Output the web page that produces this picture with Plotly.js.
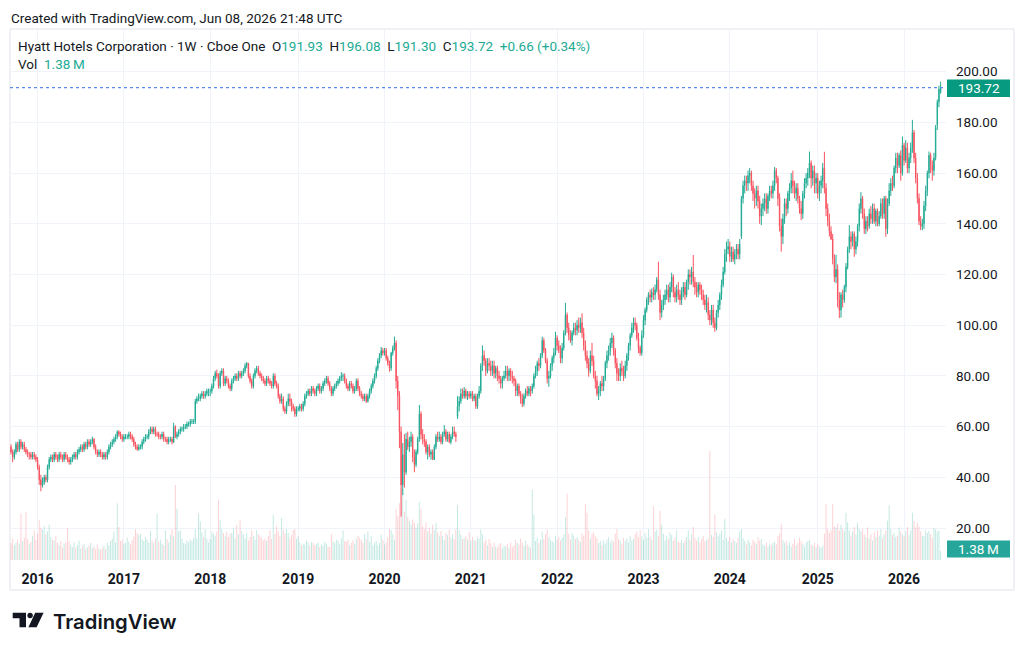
<!DOCTYPE html>
<html><head><meta charset="utf-8">
<script src="https://cdn.plot.ly/plotly-3.0.1.min.js"></script>
<style>html,body{margin:0;padding:0;background:#fff}#chart{width:1024px;height:653px}</style>
</head><body><div id="chart"></div>
<script>
// ---- data: weekly bars of Hyatt Hotels (H), first bar week of 2015-09-14 ----
const firstWeek = '2015-09-14';
const open = [
52,50,48,50,53,51,54,52,53,51, 50,49,49,48,49,48,47,44,39,37, 38,40,39,44,47,48,47,49,48,47, 49,48,47,49,48,47,46,47,48,49,
48,50,51,52,51,53,52,54,53,54, 55,52,50,49,50,49,48,49,48,50, 52,53,54,55,56,58,57,56,55,56, 56,56,57,56,55,53,52,51,52,52,
54,55,56,56,58,59,58,59,57,57, 56,56,57,55,55,54,55,55,54,60, 56,57,58,59,59,60,60,61,61,62, 62,62,70,71,71,72,73,72,73,74,
74,74,76,79,81,80,76,81,82,77, 79,78,76,75,78,79,80,79,81,80, 81,82,84,85,80,78,76,80,82,83, 81,80,79,78,77,79,78,77,76,80,
77,76,72,70,71,67,66,69,71,70, 68,67,65,67,67,68,67,69,72,73, 74,73,75,74,73,75,76,74,75,77, 78,79,77,75,73,75,76,77,78,79,
80,80,78,76,75,77,76,74,75,78, 75,73,72,71,72,70,72,74,76,78, 80,83,86,88,90,89,90,87,85,83, 89,91,93,78,72,58,37,49,42,55,
52,54,56,48,45,50,55,65,57,55, 54,50,52,49,50,47,52,56,55,56, 54,57,58,55,57,54,56,58,57,64, 68,70,73,72,74,72,73,72,73,71,
72,68,72,74,84,88,86,82,85,84, 82,84,81,83,80,79,77,79,80,82, 80,82,80,79,78,74,76,73,71,69, 72,74,73,75,74,76,80,82,85,84,
88,94,90,86,79,80,84,87,89,95, 92,90,87,91,97,104,99,96,94,97, 99,98,100,99,101,97,92,88,85,82, 88,86,80,78,73,74,77,76,79,85,
88,90,93,95,90,85,81,80,83,82, 80,84,88,92,96,99,101,100,95,91, 89,96,102,106,110,112,111,113,112,114, 118,112,105,108,110,112,114,111,115,119,
113,111,114,112,110,113,115,112,117,120, 119,121,117,115,113,116,114,112,110,108, 109,104,102,106,101,99,105,108,112,116, 121,128,130,131,127,129,126,128,130,128,
135,150,155,157,156,159,160,155,152,150, 153,149,143,146,148,150,146,151,153,152, 155,161,158,150,139,135,142,148,146,152, 154,157,155,152,154,150,146,144,152,156,
158,160,164,158,161,156,158,152,155,157, 162,154,146,141,137,134,126,119,122,110, 106,112,110,115,123,130,135,133,136,130, 133,139,146,150,144,138,141,139,144,142,
146,141,145,140,143,148,144,150,138,148, 153,156,155,162,166,163,167,160,171,165, 170,162,166,170,176,166,158,150,141,139, 140,147,153,160,167,163,161,166,179,188,
191.93];
const high = [
53,51,51,54,54,55,55,54,54,52, 51,50,50,50,50,49,48,45,41,40, 41,41,45,48,49,49,50,50,49,50, 50,49,50,50,49,48,48,49,50,50,
51,52,53,53,54,54,55,55,55,56, 55.5,53,51,51,51,50,50,50,51,53, 54,55,56,57,58.5,58.5,58,57,57,57, 57,58,58,57,56,54,53,53,53,55,
56,57,57,59,60,60,60,60,58,58, 57,58,58,56,56,56,56,56,61.5,60.5, 58,59,60,60,61,61,62,62,63,63, 63,71,72,73,73,74,74,74,75,75,
75,77,80,82,82.5,81,82,83,83,80, 80,79,77,79,80,81,81,82,82,82, 83,85,85.5,85,81,79,81,83,84,84, 82,81,80,79,80,80,79,78,81,81,
78,77,73,73,72,68,70,73,73,71, 69,68,68,68,69,69,70,73,74,75, 75,76,76,75,76,77,77,76,78,79, 80,80,78,76,76,77,78,79,80,81.5,
81,81,79,77,78,78,77,76,79,79, 76,74,73,73,73,73,75,77,79,81, 84,87,89,91.4,91,91,91,88,86,89.5, 92,95.5,94,80,74,60,53.5,57,57.5,58,
56,58,57,51,51,56,68.5,66,59,57, 55,53,53,51,51,53,57,58,58,57, 58,60.6,59,58,58,57,60,60,58,72, 72,75,75,75.6,75,74,74,74,74,73,
73,73,76,85,92,90,87,87,87,86, 86,86,84,84,82,80,80,82,84,84, 83,83,82,80,79,77,77,74,73,73, 75,76,76,76,77,81,84,86,87,89,
95.5,95,91,87,82,85,88,91,97.4,96, 94,92,93,98,108.8,105,101,98,98,101, 101,102,103,103,104.7,99,94,90,87,90, 93,88,82,80,76,78,80,80,86,90,
92,95,97,96,91,87,83,85,86,84, 86,89,93,97,101,103,103,101,97,92, 98,104,107,111,113,114,114.5,115,116,119, 125,114,110,112,114,116,116,117,120.7,120,
115,116,117,114,115,117,117,118,122,122, 123,127.7,119,117,117,117,116,114,112,112, 111,106,108,108,103,106,110,113,118,123, 130,133,134,133,131,131,130,132,132,134,
151,157,159,159,161,162,161,157,154,155, 155,151,148,150,152,152,152,155,155,157, 162.4,162,159,152,142,144,150,150,153,156, 160,161,157,156,156,151,149,153,158,160,
162,168.5,165,163,163,160,160,157,159,164, 168.4,156,148,144,139,136,128,127.7,124,113, 113,114,116,124.5,131,139.5,137,137,137,135, 140,148,152.5,151,146,143,143,146,147,148,
148,146,146,145,150,150,151,151,150,156, 158,159,163,168,168,168,169,174.4,172,173, 172,168,172,181,177,168,160,152,143,142, 149,155,161,168.5,168,165,168,179,189,194.5,
196.08];
const low = [
49,46,47,49,50,50,51,51,50,49, 48,47,47,47,47,46,43,37,34.5,36, 37,38,38,43,46,46,46,47,46,46, 47,46,46,47,46,45,45,46,47,47,
47,49,50,50,50,51,51,52,52,53, 51,49,48,48,48,47,47,47,47,49, 51,52,53,54,55,56,55,54,54,55, 55,55,55,54,52,51,50.5,50.5,51,51,
53,54,55,55,57,57,57,56,56,55, 55,55,54,54,53,53,54,53,53.5,55.5, 55,56,57,58,58,59,59,60,60,61, 61,61,69,70,70,71,71,71,72,72,
72,73,75,78,79,75,75,80,76,76, 77,75,74,74,77,78,78,78,79,79, 80,81,83,79,77,75,75,79,81,80, 79,78,77,76,76,77,76,75,75,76,
75,71,69,69,66,65,65,68,68,66, 66,63.8,64,66,66,66,66,68,71,72, 72,72,73,72,72,74,73,73,74,76, 77,76,74,72,72,74,75,76,77,78,
78,77,75,74,74,75,73,73,74,74, 72,71,70,70,69.3,69.5,71,73,75,77, 79,82,85,87,88,88,86,84,81.7,82, 88,90,75,66.5,51.5,24.5,33,36,41,50.8,
50,52,46,42,44,49,54,55,53,52, 49,47,48,47,46.8,46.8,51,54,54,53, 53,56,54,54,53.5,53,55,56,54,63, 66,69,71,71,71,70.5,71,71,70,70,
67,67,71,73,82,84,80,81,82,80, 80,79,79,78,77,75,75,78,79,78, 78,78,77,76,72,72,72,69,67.7,68, 71,72,72,72,73,75,79,80,82,83,
87,89,85,77,75.7,79,82,85,88,90, 89,85,85,90,96,97,94,93,92,96, 96,96,97,97,95,90,86,83,79.7,81, 84,79,75,72,70.5,72,74,74,78,83,
86,88,91,88,83,78,78,78,80,78, 79,82,86,90,95,97,98,94,89,88, 88,95,100,105,108,109,109,110,110,113, 110,102,103,106,108,110,109,109,113,111,
109,109,110,108,108,111,110,111,114,116, 116,115,112,111,111,112,110,108,106,105, 102,100,100,99,97.4,98,103,106,110,115, 120,125,128,125,125,125,124,126,126,126,
134,148,152,153,153,156,153,149,146,147, 146,140,139.5,143,145,144,144,149,150,150, 153,156,147,137,129,132,140,143,144,149, 152,152,150,149,148,144,141.5,142,150,154,
155,158,154,155,152,152,150,149,152,154, 152,143,139,135,133.6,124,117,116.6,107,102.8, 103,107,108.8,113,122,128.5,130,131,127,128, 131,137,144,142,136,136,137,138,140,140,
140,139,139,139,142,142,142,134.9,136,147, 151,153,154,160,160,162,157,159,163,164, 160,160,164,168,164,156,148,139.5,137.5,137.5, 138,145,151,158,160,157,159,165,177,186,
191.30];
const close = [
50,48,50,53,51,54,52,53,51,50, 49,49,48,49,48,47,44,39,37,38, 40,39,44,47,48,47,49,48,47,49, 48,47,49,48,47,46,47,48,49,48,
50,51,52,51,53,52,54,53,54,55, 52,50,49,50,49,48,49,48,50,52, 53,54,55,56,58,57,56,55,56,56, 56,57,56,55,53,52,51,52,52,54,
55,56,56,58,59,58,59,57,57,56, 56,57,55,55,54,55,55,54,60,56, 57,58,59,59,60,60,61,61,62,62, 62,70,71,71,72,73,72,73,74,74,
74,76,79,81,80,76,81,82,77,79, 78,76,75,78,79,80,79,81,80,81, 82,84,85,80,78,76,80,82,83,81, 80,79,78,77,79,78,77,76,80,77,
76,72,70,71,67,66,69,71,70,68, 67,65,67,67,68,67,69,72,73,74, 73,75,74,73,75,76,74,75,77,78, 79,77,75,73,75,76,77,78,79,80,
80,78,76,75,77,76,74,75,78,75, 73,72,71,72,70,72,74,76,78,80, 83,86,88,90,89,90,87,85,83,89, 91,93,78,72,58,37,49,42,55,52,
54,56,48,45,50,55,65,57,55,54, 50,52,49,50,47,52,56,55,56,54, 57,58,55,57,54,56,58,57,56,68, 70,73,72,74,72,73,72,73,71,72,
68,72,74,84,88,86,82,85,84,82, 84,81,83,80,79,77,79,80,82,80, 82,80,79,78,74,76,73,71,69,72, 74,73,75,74,76,80,82,85,84,88,
94,90,86,79,80,84,87,89,95,92, 90,87,91,97,104,99,96,94,97,99, 98,100,99,101,97,92,88,85,82,88, 86,80,78,73,74,77,76,79,85,88,
90,93,95,90,85,81,80,83,82,80, 84,88,92,96,99,101,100,95,91,89, 96,102,106,110,112,111,113,112,114,118, 112,105,108,110,112,114,111,115,119,113,
111,114,112,110,113,115,112,117,120,119, 121,117,115,113,116,114,112,110,108,109, 104,102,106,101,99,105,108,112,116,121, 128,130,131,127,129,126,128,130,128,132,
150,155,157,156,159,160,155,152,150,153, 149,143,146,148,150,146,151,153,152,155, 161,158,150,139,135,142,148,146,152,154, 157,155,152,154,150,146,144,152,156,158,
160,164,158,161,156,158,152,155,157,162, 154,146,141,137,134,126,119,122,110,106, 112,110,115,123,130,135,133,136,130,133, 139,146,150,144,138,141,139,144,142,146,
141,145,140,143,148,144,150,138,148,153, 156,155,162,166,163,167,160,171,165,170, 162,166,170,176,166,158,150,141,139,140, 147,153,160,167,163,161,166,178,188,193.06,
193.72];
const volume = [ // millions of shares
2.5,3.2,2.2,2.6,3.0,2.4,6.9,2.8,3.3,7.1, 3.1,2.4,2.7,3.6,4.4,3.0,3.9,5.9,4.8,4.5, 5.0,3.8,4.2,5.2,3.4,3.0,2.9,3.6,2.5,2.2, 2.8,1.9,2.4,2.6,4.7,2.8,2.3,1.9,2.6,1.8,
2.2,2.9,1.7,2.1,2.4,1.6,1.9,2.2,2.5,1.8, 2.0,1.6,2.3,1.7,1.5,1.8,2.1,1.6,2.5,2.2, 2.8,3.2,4.2,2.6,8.4,4.9,2.8,3.0,2.4,2.6, 3.3,2.7,2.3,2.9,3.5,4.6,4.0,3.7,3.9,3.1,
2.8,3.4,3.0,2.6,4.3,2.9,2.5,3.2,6.9,2.7, 3.0,2.4,2.2,4.4,3.1,2.6,3.7,4.6,3.5,11.1, 7.6,4.2,4.4,3.2,2.5,2.4,2.9,2.6,3.0,2.8, 3.3,4.6,3.2,6.9,5.7,4.1,3.4,4.6,3.2,2.6,
3.1,4.2,3.9,3.6,4.2,8.9,5.9,4.5,4.0,3.6, 4.2,3.4,3.9,4.0,4.7,3.2,5.2,3.8,5.9,4.3, 3.8,3.2,4.0,2.9,3.4,4.4,3.6,3.0,4.4,3.8, 3.6,3.3,2.9,3.2,2.8,3.6,4.4,3.1,6.7,3.9,
5.0,4.2,3.5,6.2,4.5,3.9,4.6,4.0,3.2,3.7, 4.4,4.6,3.1,3.5,2.6,2.2,2.4,2.3,2.9,2.6, 2.1,2.7,2.5,2.2,2.4,2.6,1.9,2.3,2.1,2.7, 2.4,2.0,1.9,3.8,2.8,2.5,3.0,2.9,2.4,3.2,
4.4,2.8,2.7,3.0,2.2,2.5,2.9,2.4,3.2,3.6, 3.3,3.0,2.5,3.8,3.1,4.2,2.7,3.5,2.2,2.5, 2.8,2.2,2.5,3.7,3.0,2.3,2.6,3.4,4.6,4.4, 3.8,3.0,7.6,6.5,8.4,10.6,10.4,7.1,8.9,6.4,
5.8,5.2,6.0,5.5,4.8,5.4,8.6,7.6,5.0,4.6, 5.6,4.2,4.8,3.9,5.2,4.4,5.5,4.1,3.6,4.3, 3.5,3.0,4.0,3.7,4.5,3.3,3.8,3.1,4.6,8.1, 4.4,3.7,3.1,3.2,3.6,3.0,4.1,2.9,3.4,3.0,
2.8,3.3,3.1,4.5,3.8,2.6,3.0,2.2,3.1,2.5, 1.9,2.6,2.0,1.8,2.3,2.5,1.7,2.1,2.0,2.4, 1.8,2.6,1.9,2.2,3.0,2.5,2.3,3.2,2.6,2.1, 2.9,2.3,2.0,1.8,10.4,6.7,2.8,3.3,2.5,3.0,
4.2,3.1,3.8,4.5,3.4,3.0,2.8,2.6,3.6,3.0, 3.4,2.9,3.3,3.8,6.4,9.8,3.9,3.0,4.0,3.6, 3.1,3.4,3.0,2.7,3.9,3.6,8.3,7.0,4.4,3.2, 3.8,4.1,3.6,3.2,2.5,2.8,2.2,2.9,2.4,3.0,
3.4,2.6,3.0,2.7,3.9,4.6,3.1,2.9,2.4,3.3, 2.8,3.2,2.6,3.5,2.9,3.1,3.8,4.2,3.4,4.4, 3.5,3.0,4.0,3.3,4.6,3.4,3.0,8.0,4.2,4.5, 3.6,7.3,5.2,3.9,2.9,3.5,3.1,4.1,3.7,2.8,
3.3,4.4,2.7,2.6,3.0,2.5,2.9,3.4,4.4,3.0, 3.8,4.9,3.3,2.9,3.4,2.6,3.1,3.6,2.8,3.0, 3.2,16.1,3.7,3.4,6.7,4.1,3.5,3.9,4.4,3.0, 6.1,3.3,2.8,3.4,2.6,3.1,2.8,2.5,3.3,4.2,
4.6,3.2,2.8,2.4,3.0,2.6,2.2,3.0,2.7,2.4, 3.4,2.9,3.1,2.3,2.1,2.6,2.0,2.4,2.2,2.5, 2.7,2.3,3.5,3.9,5.3,3.0,2.5,2.8,2.2,2.6, 2.0,2.4,3.1,2.2,2.6,3.3,2.8,2.4,2.0,2.6,
2.8,3.0,2.3,2.1,2.5,1.9,2.3,2.0,1.8,2.2, 3.9,8.3,4.6,4.0,4.4,8.3,5.0,4.8,5.4,4.4, 5.2,4.6,4.3,7.0,5.6,4.4,3.6,4.2,4.9,3.8, 5.5,4.6,4.2,4.6,3.8,3.4,4.8,3.2,3.8,2.9,
4.1,3.4,4.3,3.6,4.6,3.2,3.8,4.4,5.8,8.1, 4.6,3.7,4.0,3.4,3.6,4.8,4.2,3.8,3.5,4.3, 4.9,3.7,4.4,7.0,5.8,4.8,5.5,5.0,4.2,3.6, 3.5,4.4,4.0,4.3,3.8,3.3,4.7,4.5,4.2,4.4,
1.38];
const yearTicks = ['2016-01-04','2017-01-02','2018-01-01','2019-01-07','2020-01-06','2021-01-04','2022-01-03','2023-01-02','2024-01-01','2025-01-06','2026-01-05'];
const yearLabels = ['2016','2017','2018','2019','2020','2021','2022','2023','2024','2025','2026'];
const priceTicks = [20,40,60,80,100,120,140,160,180,200];

// ---- geometry / styling ----
const W = 1024, H = 653;
const DAY = 86400000, WEEK = 7 * DAY;
const UP = '#22ab94', DOWN = '#f7525f';
const UPV = 'rgba(34,171,148,0.28)', DOWNV = 'rgba(247,82,95,0.28)';
const TXT = '#131722', GRID = '#f0f3fa';
const FONT = 'Roboto, "Open Sans", sans-serif';
const px = x => x / W, py = y => 1 - y / H;

const plotL = 10, plotR = 946, plotT = 29.5, plotB = 560;
const firstBarPx = 11, weekPx = 1.66;
const t0 = Date.parse(firstWeek + 'T00:00:00Z');
const fmt = ms => new Date(ms).toISOString().replace('T', ' ').slice(0, 19);
const dates = close.map((_, i) => fmt(t0 + i * WEEK).slice(0, 10));
const xRange = [fmt(t0 + (plotL - firstBarPx) / weekPx * WEEK), fmt(t0 + (plotR - firstBarPx) / weekPx * WEEK)];

const pxPerUnit = 50.7 / 20; // price axis scale
const yRange = [20 - (plotB - 528) / pxPerUnit, 20 + (528 - plotT) / pxPerUnit];
const volRange = [0, (plotB - plotT) * 0.148];

const n = close.length;
const volColors = close.map((c, i) => c >= open[i] ? UPV : DOWNV);
const lastC = close[n - 1], prevC = close[n - 2];
const chg = lastC - prevC, chgPct = chg / prevC * 100;
const g = s => `<span style="color:${UP}">${s}</span>`;
const sp = '\u00a0';

const traces = [
  { type: 'bar', x: dates, y: volume, width: 4 * DAY, marker: { color: volColors, line: { width: 0 } },
    xaxis: 'x', yaxis: 'y', hoverinfo: 'skip' },
  { type: 'candlestick', x: dates, open: open, high: high, low: low, close: close,
    increasing: { line: { color: UP, width: 1 }, fillcolor: UP },
    decreasing: { line: { color: DOWN, width: 1 }, fillcolor: DOWN },
    whiskerwidth: 0, xaxis: 'x', yaxis: 'y2', hoverinfo: 'skip' }
];

const logoPath = (pts) => 'M' + pts.map(p => px(p[0]) + ',' + py(p[1])).join(' L') + ' Z';

const layout = {
  width: W, height: H, margin: { l: 0, r: 0, t: 0, b: 0 },
  paper_bgcolor: '#ffffff', plot_bgcolor: '#ffffff', showlegend: false,
  boxgap: 0.6, font: { family: FONT, color: TXT, size: 13.5 },
  xaxis: { type: 'date', domain: [px(plotL), px(plotR)], range: xRange,
    tickvals: yearTicks, ticktext: yearLabels, ticks: '', ticklabelstandoff: 9,
    tickfont: { family: FONT, size: 14, color: TXT, weight: 700 },
    showgrid: true, gridcolor: GRID, gridwidth: 1, zeroline: false, showline: false,
    rangeslider: { visible: false }, fixedrange: true },
  yaxis: { domain: [py(plotB), py(plotT)], range: volRange, visible: false, fixedrange: true },
  yaxis2: { overlaying: 'y', side: 'right', range: yRange, tickvals: priceTicks, tickformat: '.2f',
    ticks: '', ticklabelstandoff: 9, tickfont: { family: FONT, size: 13.5, color: TXT },
    showgrid: true, gridcolor: GRID, gridwidth: 1, zeroline: false, showline: false, fixedrange: true },
  shapes: [
    { type: 'rect', xref: 'paper', yref: 'paper', x0: px(10), x1: px(1014), y0: py(590), y1: py(29),
      line: { color: '#e0e3eb', width: 1 }, fillcolor: 'rgba(0,0,0,0)', layer: 'below' },
    { type: 'line', xref: 'paper', yref: 'y2', x0: px(plotL), x1: px(plotR), y0: lastC, y1: lastC,
      line: { color: '#5b8de8', width: 1.2, dash: 'dot' } },
    { type: 'rect', xref: 'paper', yref: 'paper', x0: px(947), x1: px(1010), y0: py(97), y1: py(79.5),
      fillcolor: '#089981', line: { width: 0 } },
    { type: 'rect', xref: 'paper', yref: 'paper', x0: px(947), x1: px(1010), y0: py(557.5), y1: py(540.5),
      fillcolor: '#26a69a', line: { width: 0 } },
    // TradingView logo mark
    { type: 'path', xref: 'paper', yref: 'paper', fillcolor: '#131722', line: { width: 0 },
      path: logoPath([[12.7, 612.7], [26, 612.7], [26, 627.3], [19.5, 627.3], [19.5, 618.2], [12.7, 618.2]]) },
    { type: 'circle', xref: 'paper', yref: 'paper', fillcolor: '#131722', line: { width: 0 },
      x0: px(27.4), x1: px(32.8), y0: py(618.2), y1: py(612.8) },
    { type: 'path', xref: 'paper', yref: 'paper', fillcolor: '#131722', line: { width: 0 },
      path: logoPath([[35.2, 612.7], [43.6, 612.7], [36.6, 627.3], [28.4, 627.3]]) }
  ],
  annotations: [
    { xref: 'paper', yref: 'paper', x: px(9), y: py(18), xanchor: 'left', yanchor: 'middle', showarrow: false,
      text: 'Created with TradingView.com, Jun 08, 2026 21:48 UTC', font: { size: 13.5, color: TXT } },
    { xref: 'paper', yref: 'paper', x: px(16), y: py(46), xanchor: 'left', yanchor: 'middle', showarrow: false,
      text: 'Hyatt Hotels Corporation · 1W · Cboe One' + sp + sp + 'O' + g(open[n - 1].toFixed(2)) + sp + sp +
        'H' + g(high[n - 1].toFixed(2)) + sp + sp + 'L' + g(low[n - 1].toFixed(2)) + sp + sp + 'C' + g(lastC.toFixed(2)) +
        sp + sp + g((chg >= 0 ? '+' : '') + chg.toFixed(2) + ' (' + (chg >= 0 ? '+' : '') + chgPct.toFixed(2) + '%)'),
      font: { size: 13.5, color: TXT } },
    { xref: 'paper', yref: 'paper', x: px(16), y: py(64), xanchor: 'left', yanchor: 'middle', showarrow: false,
      text: 'Vol' + sp + sp + g(volume[n - 1].toFixed(2) + '\u2009M'), font: { size: 13.5, color: TXT } },
    { xref: 'paper', yref: 'y2', x: px(978.5), y: lastC, xanchor: 'center', yanchor: 'middle', showarrow: false,
      text: lastC.toFixed(2), font: { size: 13.5, color: '#ffffff' } },
    { xref: 'paper', yref: 'paper', x: px(978.5), y: py(549), xanchor: 'center', yanchor: 'middle', showarrow: false,
      text: volume[n - 1].toFixed(2) + '\u2009M', font: { size: 13.5, color: '#ffffff' } },
    { xref: 'paper', yref: 'paper', x: px(50.5), y: py(621), xanchor: 'left', yanchor: 'middle', showarrow: false,
      text: 'TradingView', font: { family: 'Inter, Roboto, sans-serif', size: 20.3, color: '#131722', weight: 600 } }
  ]
};

Plotly.newPlot('chart', traces, layout, { staticPlot: true, displayModeBar: false });
</script>
</body></html>
